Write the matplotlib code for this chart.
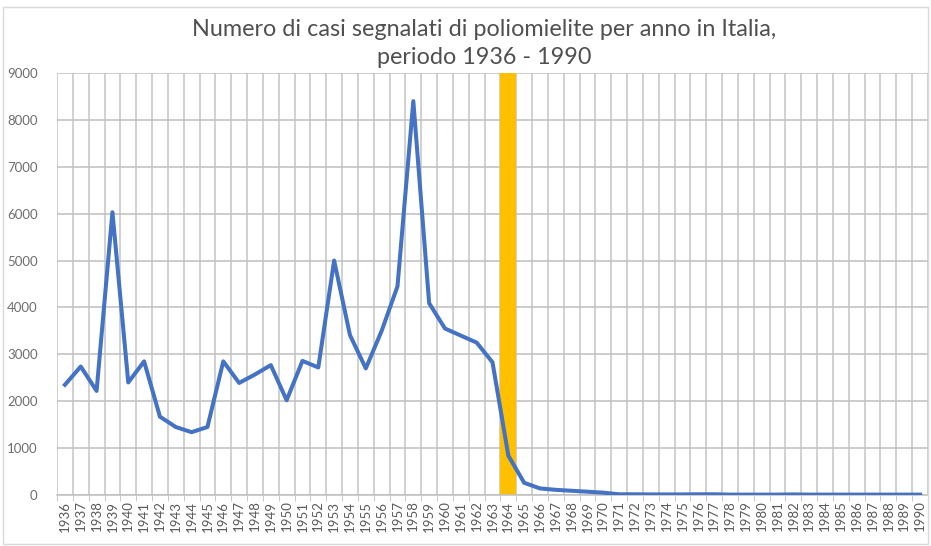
import matplotlib
matplotlib.use("Agg")
import matplotlib.pyplot as plt
from matplotlib.patches import Rectangle
import numpy as np

years = list(range(1936, 1991))
cases = [2350, 2740, 2220, 6030, 2400, 2850, 1670, 1450, 1340, 1450,
         2850, 2390, 2570, 2770, 2020, 2860, 2720, 5000, 3410, 2700,
         3500, 4450, 8400, 4090, 3550, 3400, 3250, 2830, 840, 260,
         140, 110, 90, 70, 50, 15, 15, 12, 12, 12,
         15, 15, 8, 8, 8, 8, 12, 8, 8, 8,
         8, 8, 8, 8, 8]
highlight_year = 1964
highlight_height = 9000
title_lines = ["Numero di casi segnalati di poliomielite per anno in Italia,",
               "periodo 1936 - 1990"]

plt.rcParams['font.family'] = ['Lato', 'DejaVu Sans']

W, H = 931, 546
fig = plt.figure(figsize=(W / 100, H / 100), dpi=100)
fig.patch.set_facecolor('white')
fig.patches.append(Rectangle((3 / W, 2 / H), 1 - 6 / W, 1 - 9 / H, transform=fig.transFigure,
                             fill=False, edgecolor='#D9D9D9', linewidth=1.0))

ax = fig.add_axes([57 / W, (H - 495) / H, 871 / W, 422 / H])
x = np.arange(len(years))
hi = years.index(highlight_year)
ax.bar([hi], [highlight_height], width=1.0, color='#FFC000', zorder=2)
ax.plot(x, cases, color='#4472C4', linewidth=2.9, zorder=3)

ax.set_xlim(-0.5, len(years) - 0.5)
ax.set_ylim(0, 9000)
ax.set_yticks(range(0, 9001, 1000))
ax.set_xticks(x)
ax.set_xticklabels([str(y) for y in years], rotation=90)
ax.set_xticks(np.arange(-0.5, len(years), 1.0), minor=True)

ax.grid(axis='y', which='major', color='#BFBFBF', linewidth=1.1, zorder=0)
ax.grid(axis='x', which='minor', color='#C4C4C4', linewidth=1.1, zorder=0)
ax.set_axisbelow(True)

for s in ['top', 'right', 'left']:
    ax.spines[s].set_visible(False)
ax.spines['bottom'].set_color('#BFBFBF')
ax.spines['bottom'].set_linewidth(1.1)

ax.tick_params(axis='x', which='major', length=0, pad=4, labelsize=9.5, labelcolor='#595959')
ax.tick_params(axis='x', which='minor', length=4, color='#BFBFBF')
ax.tick_params(axis='y', length=0, pad=14, labelsize=9.5, labelcolor='#6E6E6E')

fig.text(484 / W, 1 - 30 / H, title_lines[0], ha='center', va='center', fontsize=16.8,
         color='#505050')
fig.text(484 / W, 1 - 58 / H, title_lines[1], ha='center', va='center', fontsize=16.8,
         color='#505050')

fig.savefig('out.png', dpi=100)
